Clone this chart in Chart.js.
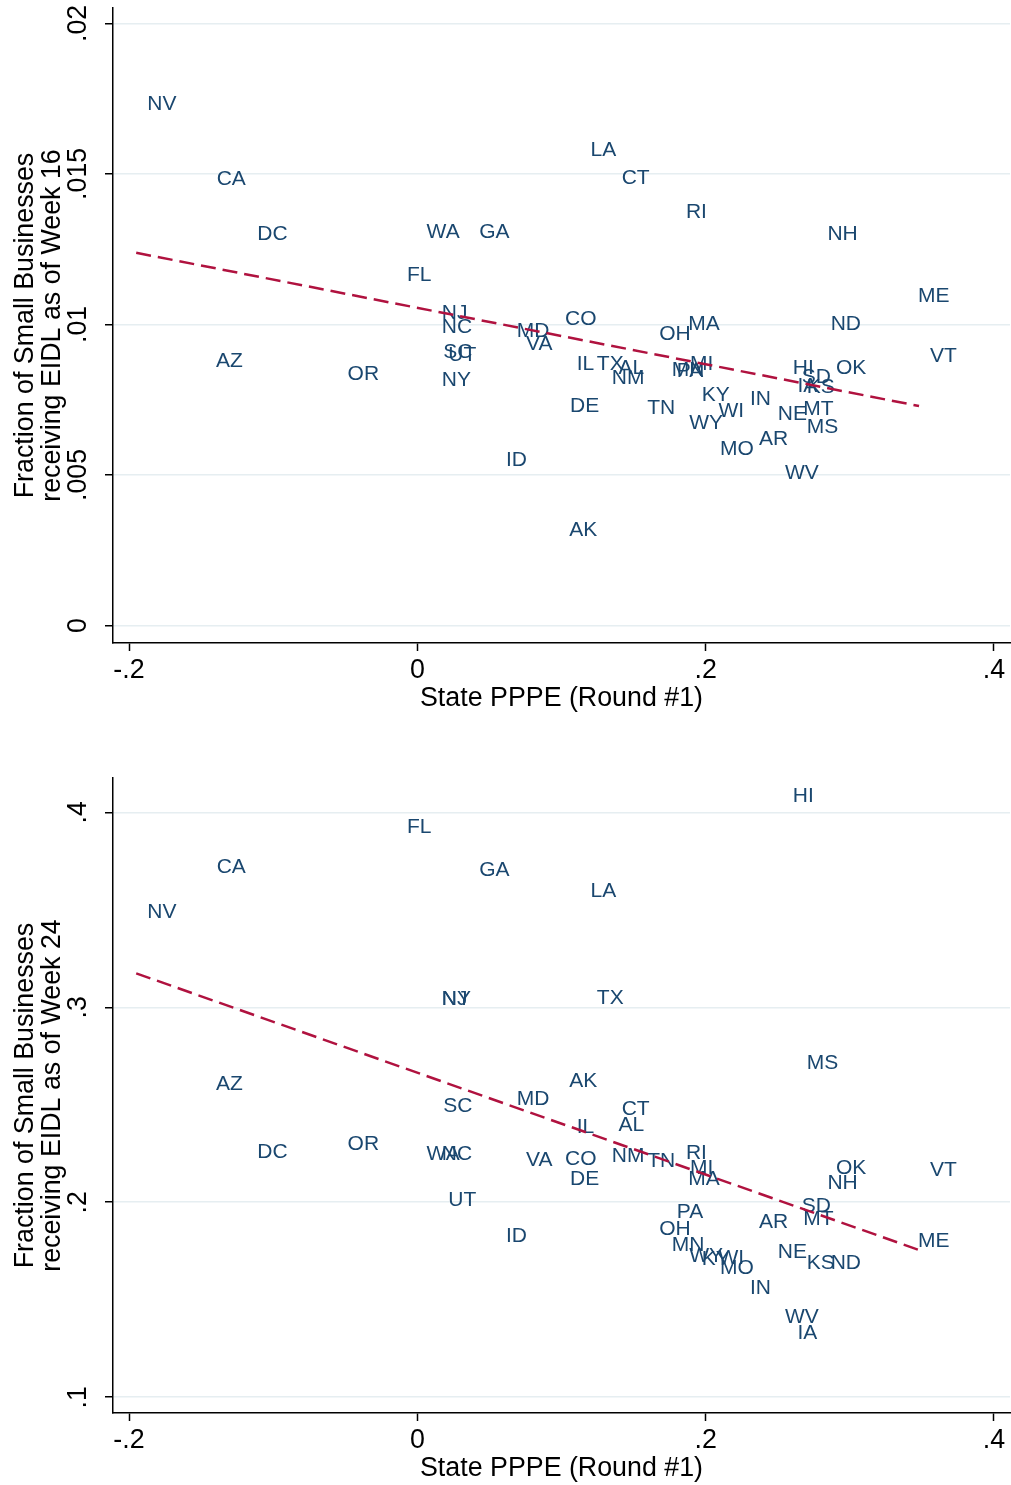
<!DOCTYPE html>
<html>
<head>
<meta charset="utf-8">
<script src="https://cdn.jsdelivr.net/npm/chart.js@4/dist/chart.umd.min.js"></script>
<style>
  html, body { margin: 0; padding: 0; background: #fff; }
  .panel { position: absolute; left: 0; width: 1011px; }
  #p16 { top: 0; height: 770px; }
  #p24 { top: 770px; height: 715px; }
</style>
</head>
<body>
<div class="panel" id="p16"><canvas id="c16" width="1011" height="770"></canvas></div>
<div class="panel" id="p24"><canvas id="c24" width="1011" height="715"></canvas></div>
<script>
// state labels and their PPPE (round 1) values
const states = ['NV','CA','DC','AZ','OR','WA','FL','GA','NJ','NY','NC','SC','UT','MD','VA','ID','CO','IL','DE','AK',
  'LA','TX','NM','AL','CT','TN','OH','MN','PA','RI','MI','MA','WY','KY','WI','MO','IN','AR','NE','WV',
  'HI','IA','SD','MT','KS','MS','NH','ND','OK','ME','VT'];
const pppe = [-0.195,-0.1468,-0.1186,-0.1473,-0.056,-0.0012,-0.0148,0.0353,0.0093,0.0093,0.0093,0.0104,0.0139,0.0613,0.0678,0.0539,0.0948,0.1029,0.0983,0.0978,
  0.1125,0.1169,0.1272,0.1319,0.1341,0.1518,0.1602,0.1688,0.1723,0.1787,0.1815,0.1803,0.181,0.1896,0.2012,0.2023,0.2231,0.2294,0.2424,0.2474,
  0.2528,0.256,0.259,0.2601,0.2625,0.2625,0.2768,0.2791,0.2828,0.3397,0.348];
// share of small businesses with an EIDL, week 16 and week 24
const eidl16 = [0.01736,0.01489,0.01306,0.00882,0.00839,0.01311,0.01168,0.01311,0.01042,0.00822,0.00995,0.00915,0.00905,0.00982,0.00939,0.00555,0.01022,0.00875,0.00733,0.00323,
  0.01583,0.00872,0.00826,0.00859,0.01493,0.00726,0.00972,0.00855,0.00852,0.0138,0.00872,0.01005,0.00676,0.00769,0.00716,0.0059,0.00756,0.00623,0.00709,0.0051,
  0.00859,0.00799,0.00832,0.00723,0.00796,0.00666,0.01307,0.01005,0.00859,0.01101,0.00899];
const eidl24 = [0.3495,0.3725,0.2263,0.2612,0.2309,0.2253,0.3935,0.3714,0.3048,0.3048,0.2253,0.2499,0.2017,0.2535,0.2227,0.1837,0.2232,0.2396,0.2125,0.2632,
  0.3602,0.3053,0.2243,0.2406,0.2484,0.2217,0.1868,0.1791,0.196,0.2258,0.2181,0.2125,0.173,0.1715,0.172,0.1668,0.1566,0.1909,0.1755,0.1417,
  0.4094,0.1335,0.1986,0.192,0.1694,0.2724,0.2104,0.1694,0.2181,0.1807,0.2174];

// linear fit endpoints
const fitX = [-0.195, 0.348];
const fit16 = [0.01238, 0.00729];
const fit24 = [0.3174, 0.1755];

const xTicks = [-0.2, 0, 0.2, 0.4];
const xTickLabels = ['-.2', '0', '.2', '.4'];
const yTicks16 = [0, 0.005, 0.01, 0.015, 0.02];
const yTickLabels16 = ['0', '.005', '.01', '.015', '.02'];
const yTicks24 = [0.1, 0.2, 0.3, 0.4];
const yTickLabels24 = ['.1', '.2', '.3', '.4'];

const FONT = '"Liberation Sans", Arial, Helvetica, sans-serif';
const navy = '#1a476f';
const fitRed = '#b0123f';
const gridCol = '#e6eef1';
const LABEL_PX = 21;
const AXIS_PX = 26.8;

// writes the state abbreviation to the right of each (invisible) marker
const stateLabels = {
  id: 'stateLabels',
  afterDatasetDraw(chart, args) {
    if (args.index !== 0) return;
    const ctx = chart.ctx;
    ctx.save();
    ctx.font = LABEL_PX + 'px ' + FONT;
    ctx.fillStyle = navy;
    ctx.textAlign = 'left';
    ctx.textBaseline = 'alphabetic';
    args.meta.data.forEach((el, i) => {
      ctx.fillText(states[i], el.x + 11, el.y + 0.358 * LABEL_PX);
    });
    ctx.restore();
  }
};

function makePanel(id, yVals, fitY, yTicks, yLabels, yMin, yMax, yTitle, padBottom, yTickPad) {
  const pts = states.map((s, i) => ({ x: pppe[i], y: yVals[i] }));
  const line = fitX.map((x, i) => ({ x: x, y: fitY[i] }));
  return new Chart(document.getElementById(id), {
    type: 'scatter',
    data: {
      datasets: [
        { data: pts, pointRadius: 0, pointHoverRadius: 0, order: 1 },
        {
          type: 'line', data: line, borderColor: fitRed, borderWidth: 2.5,
          borderDash: [15, 7], pointRadius: 0, fill: false, order: 0
        }
      ]
    },
    options: {
      responsive: false,
      animation: false,
      events: [],
      layout: { padding: { left: 0, right: 1, top: 8, bottom: padBottom } },
      plugins: { legend: { display: false }, tooltip: { enabled: false } },
      scales: {
        x: {
          type: 'linear', min: -0.2111, max: 0.4111,
          afterBuildTicks(scale) { scale.ticks = xTicks.map(v => ({ value: v })); },
          afterFit(scale) { scale.height = 72; scale.paddingLeft = 0; scale.paddingRight = 0; },
          border: { display: true, color: '#000', width: 1.5 },
          grid: { drawOnChartArea: false, drawTicks: true, tickLength: 8, tickColor: '#000', tickWidth: 1.5 },
          ticks: {
            padding: 4, color: '#000', maxRotation: 0,
            font: { family: FONT, size: AXIS_PX, lineHeight: 1.2 },
            callback: (v, i) => xTickLabels[i]
          },
          title: {
            display: true, text: 'State PPPE (Round #1)', color: '#000',
            font: { family: FONT, size: AXIS_PX, lineHeight: 1.2 },
            padding: { top: 0, bottom: 0 }
          }
        },
        y: {
          type: 'linear', min: yMin, max: yMax,
          afterBuildTicks(scale) { scale.ticks = yTicks.map(v => ({ value: v })); },
          afterFit(scale) { scale.width = 113; scale.paddingTop = 0; scale.paddingBottom = 0; },
          border: { display: true, color: '#000', width: 1.5 },
          grid: { color: gridCol, lineWidth: 1.5, drawTicks: true, tickLength: 8, tickColor: '#000', tickWidth: 1.5 },
          ticks: {
            padding: yTickPad, color: '#000', minRotation: 90, maxRotation: 90, crossAlign: 'center',
            font: { family: FONT, size: AXIS_PX, lineHeight: 1.2 },
            callback: (v, i) => yLabels[i]
          },
          title: {
            display: true, text: yTitle, color: '#000',
            font: { family: FONT, size: AXIS_PX, lineHeight: 1.0 },
            padding: { top: 12.5, bottom: 0 }
          }
        }
      }
    },
    plugins: [stateLabels]
  });
}

makePanel('c16', eidl16, fit16, yTicks16, yTickLabels16, -0.000581, 0.02051,
  ['Fraction of Small Businesses', 'receiving EIDL as of Week 16'], 55, 0.7);
makePanel('c24', eidl24, fit24, yTicks24, yTickLabels24, 0.0919, 0.4176,
  ['Fraction of Small Businesses', 'receiving EIDL as of Week 24'], 0, 15.2);
</script>
</body>
</html>
